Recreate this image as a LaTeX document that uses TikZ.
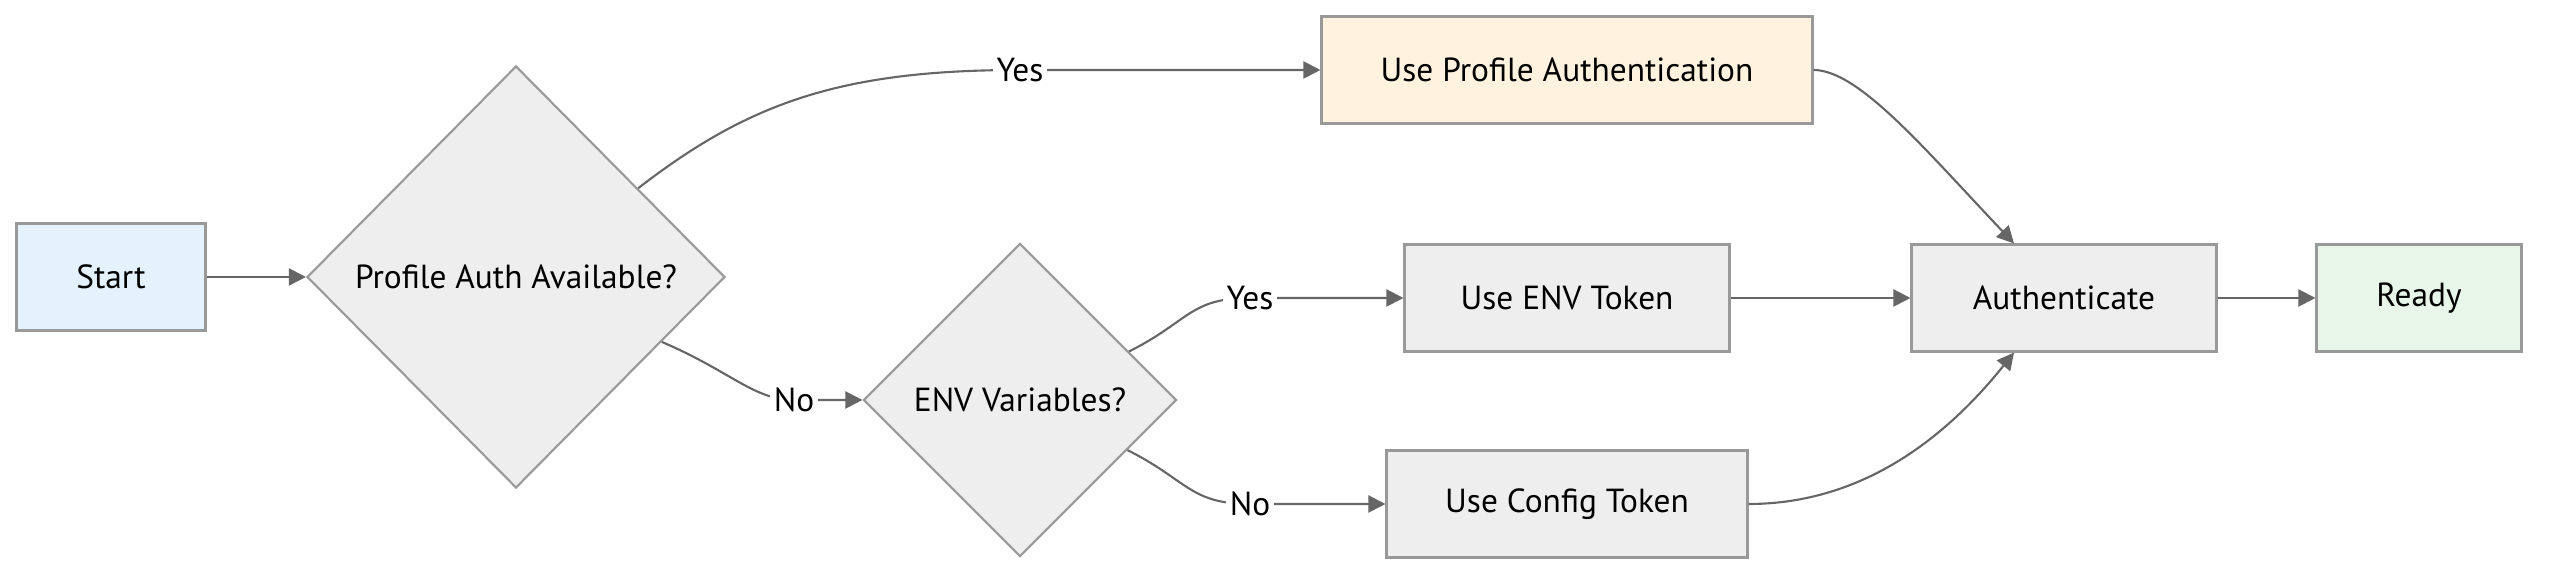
\documentclass[tikz,border=0pt]{standalone}
\usepackage{fontspec}
\setmainfont{PT Sans}
\usetikzlibrary{shapes.geometric,arrows.meta}
\definecolor{startblue}{HTML}{E3F2FD}
\definecolor{profileorange}{HTML}{FFF3E0}
\definecolor{readygreen}{HTML}{E8F5E9}
\definecolor{boxgray}{HTML}{EEEEEE}
\definecolor{bordergray}{HTML}{999999}
\definecolor{edgegray}{HTML}{666666}

\begin{document}
\begin{tikzpicture}[x=1cm,y=1cm,>={Triangle[length=1.7mm,width=1.7mm]},
  font=\fontsize{9.5pt}{11pt}\selectfont,
  box/.style={draw=bordergray,line width=0.6pt,fill=boxgray,minimum height=1.07cm,inner sep=0pt},
  decision/.style={diamond,draw=bordergray,line width=0.6pt,fill=boxgray,inner sep=0pt},
  flow/.style={->,draw=edgegray,line width=0.6pt},
  lbl/.style={fill=white,inner sep=1pt}]
\useasboundingbox (0,0) rectangle (25.52,5.78);
% nodes
\node[box,fill=startblue,minimum width=1.89cm] (start) at (1.11,3.01) {Start};
\node[decision,minimum width=4.18cm,minimum height=4.22cm] (d1) at (5.16,3.01) {Profile Auth Available?};
\node[box,fill=profileorange,minimum width=4.91cm] (upa) at (15.67,5.08) {Use Profile Authentication};
\node[decision,minimum width=3.13cm,minimum height=3.13cm] (d2) at (10.20,1.78) {ENV Variables?};
\node[box,minimum width=3.25cm] (uet) at (15.67,2.80) {Use ENV Token};
\node[box,minimum width=3.61cm] (uct) at (15.67,0.74) {Use Config Token};
\node[box,minimum width=3.05cm] (auth) at (20.64,2.80) {Authenticate};
\node[box,fill=readygreen,minimum width=2.05cm] (ready) at (24.19,2.80) {Ready};
% bends where the labels sit
\coordinate (yes1) at (10.20,5.08);
\coordinate (no1) at (7.94,1.78);
\coordinate (yes2) at (12.50,2.80);
\coordinate (no2) at (12.50,0.74);
% edges
\draw[flow] (start) -- (d1);
\draw[flow] (d1.36) .. controls +(1.1,0.85) and +(-1.8,0) .. (yes1) node[lbl]{Yes} -- (upa.west);
\draw[flow] (d1.-24) .. controls +(0.7,-0.3) and +(-0.4,0) .. (no1) node[lbl]{No} -- (d2.west);
\draw[flow] (d2.24) .. controls +(0.6,0.3) and +(-0.6,0) .. (yes2) node[lbl]{Yes} -- (uet.west);
\draw[flow] (d2.-25) .. controls +(0.6,-0.3) and +(-0.6,0) .. (no2) node[lbl]{No} -- (uct.west);
\draw[flow] (upa.east) .. controls +(0.45,0) and +(-0.9,0.95) .. ([xshift=-5mm]auth.north);
\draw[flow] (uet) -- (auth);
\draw[flow] (uct.east) .. controls +(1.0,0) and +(-0.8,-1.0) .. ([xshift=-5mm]auth.south);
\draw[flow] (auth) -- (ready);
\end{tikzpicture}
\end{document}
